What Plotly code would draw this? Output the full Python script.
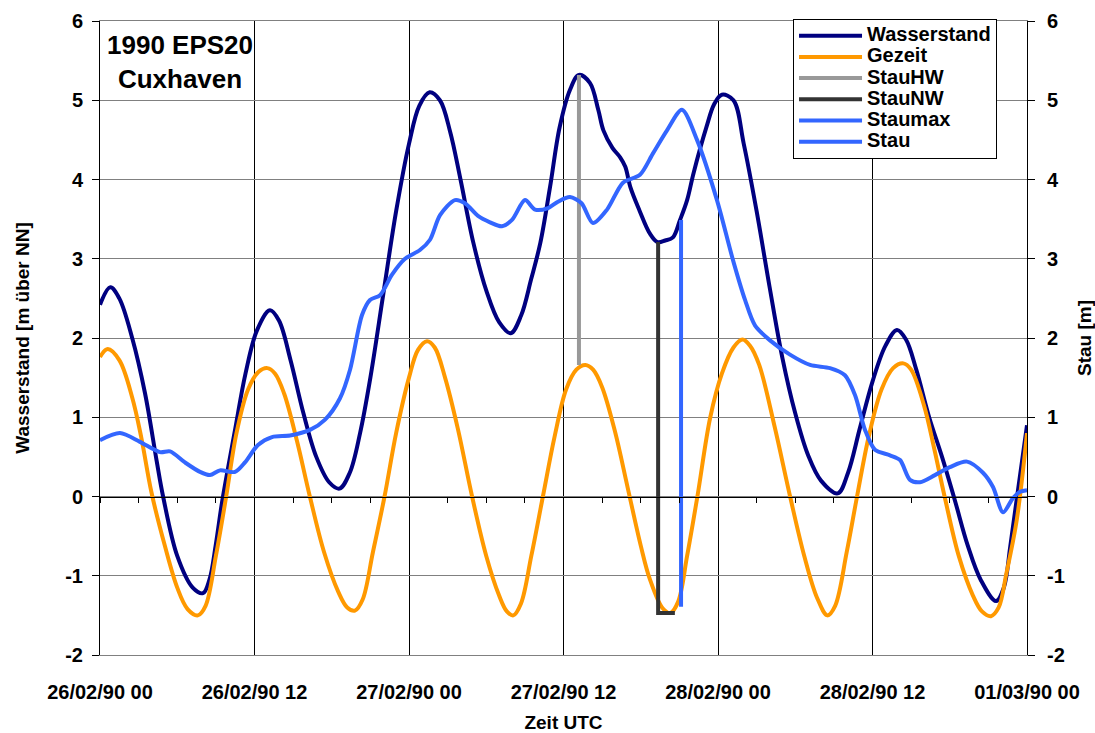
import plotly.graph_objects as go

# Time axis in hours since 26/02/90 00 UTC
tick_hours = [0, 12, 24, 36, 48, 60, 72]
tick_labels = ["26/02/90 00", "26/02/90 12", "27/02/90 00", "27/02/90 12",
               "28/02/90 00", "28/02/90 12", "01/03/90 00"]
level_ticks = [-2, -1, 0, 1, 2, 3, 4, 5, 6]
level_labels = ["-2", "-1", "0", "1", "2", "3", "4", "5", "6"]

# Observed water level [m above NN]
wasserstand_h = [0, 0.8, 1.5, 2.5, 3.5, 4.4, 4.9, 6.0, 7.2, 8.0, 8.5, 9.0, 9.5,
                 10.5, 11.3, 12.2, 13.2, 13.9, 14.8, 15.8, 16.8, 17.8, 18.6, 19.4,
                 20.2, 21.0, 22.0, 23.0, 24.0, 24.8, 25.6, 26.4, 27.2, 28.0, 29.0,
                 30.0, 31.0, 31.9, 32.7, 33.5, 34.2, 34.95, 35.7, 36.5, 37.2, 38.05,
                 38.7, 39.1, 39.8, 40.4, 40.8, 41.2, 41.9, 42.7, 43.3, 43.9, 44.5,
                 45.05, 45.6, 46.1, 47.1, 47.7, 48.3, 49.2, 50.0, 51.0, 52.0, 53.0,
                 54.0, 55.0, 56.0, 57.3, 58.1, 59.0, 60.0, 61.0, 61.9, 62.6, 63.4,
                 64.4, 65.4, 66.4, 67.4, 68.4, 69.6, 70.2, 70.7, 71.3, 72.0]
wasserstand_m = [2.42, 2.64, 2.5, 2.0, 1.3, 0.45, 0.0, -0.75, -1.15, -1.22, -1.05, -0.6, -0.05,
                 0.85, 1.55, 2.1, 2.35, 2.22, 1.72, 1.05, 0.5, 0.18, 0.1, 0.3,
                 0.8, 1.5, 2.55, 3.6, 4.45, 4.93, 5.1, 5.0, 4.6, 4.0, 3.2,
                 2.6, 2.2, 2.06, 2.28, 2.75, 3.2, 3.9, 4.66, 5.13, 5.32, 5.22,
                 4.88, 4.62, 4.4, 4.28, 4.16, 3.9, 3.61, 3.32, 3.21, 3.23, 3.27,
                 3.49, 3.74, 4.08, 4.66, 4.95, 5.07, 5.0, 4.45, 3.6, 2.65, 1.75,
                 1.05, 0.52, 0.2, 0.04, 0.3, 0.85, 1.45, 1.9, 2.1, 1.98, 1.6,
                 1.0, 0.5, -0.05, -0.62, -1.05, -1.32, -1.15, -0.63, 0.08, 0.9]

# Astronomical tide [m above NN]
gezeit_h = [0, 0.6, 1.5, 2.5, 3.2, 4.0, 5.0, 6.0, 6.8, 7.6, 8.2, 9.0, 9.8, 10.6,
            11.5, 12.3, 13.0, 13.6, 14.3, 15.3, 16.3, 17.4, 18.5, 19.2, 19.8, 20.4,
            21.2, 22.1, 23.0, 24.0, 24.7, 25.4, 26.0, 26.8, 27.8, 28.9, 30.0, 31.0,
            31.6, 32.1, 32.7, 33.5, 34.4, 35.3, 36.2, 37.0, 37.7, 38.3, 39.0, 40.0,
            41.0, 42.0, 42.7, 43.7, 44.3, 44.9, 45.6, 46.4, 47.4, 48.3, 49.2, 49.9,
            50.5, 51.2, 52.4, 53.6, 54.7, 55.7, 56.5, 57.1, 58.0, 58.8, 59.7, 60.7,
            61.6, 62.4, 63.0, 64.0, 64.8, 65.6, 66.7, 67.8, 68.5, 69.2, 69.8, 70.4,
            71.2, 72.0]
gezeit_m = [1.76, 1.86, 1.72, 1.25, 0.75, 0.05, -0.6, -1.15, -1.42, -1.5, -1.38, -0.75, 0.0, 0.8,
            1.35, 1.57, 1.62, 1.55, 1.3, 0.7, 0.0, -0.7, -1.2, -1.4, -1.44, -1.3,
            -0.7, 0.0, 0.8, 1.5, 1.85, 1.96, 1.88, 1.5, 0.85, 0.0, -0.75, -1.25,
            -1.45, -1.5, -1.35, -0.75, 0.0, 0.75, 1.35, 1.6, 1.66, 1.6, 1.38, 0.82,
            0.1, -0.62, -1.04, -1.41, -1.47, -1.33, -0.75, 0.0, 1.0, 1.55, 1.88, 1.98,
            1.9, 1.66, 0.88, 0.0, -0.75, -1.28, -1.5, -1.38, -0.7, 0.0, 0.75, 1.35,
            1.62, 1.68, 1.6, 1.15, 0.6, 0.0, -0.75, -1.25, -1.45, -1.51, -1.4, -0.97,
            -0.3, 0.8]

# Surge [m]
stau_h = [0, 1.55, 3.1, 4.66, 5.44, 6.6, 7.77, 8.54, 9.32, 10.49, 11.26, 12.27, 13.36,
          14.76, 16.31, 17.48, 18.64, 19.42, 20.35, 20.97, 21.75, 22.68, 23.69, 24.85,
          25.63, 26.41, 27.57, 28.35, 29.36, 30.29, 31.22, 32.0, 33.01, 33.79, 34.8,
          35.57, 36.5, 37.4, 38.29, 39.38, 40.62, 41.94, 42.95, 44.04, 45.2, 46.37,
          47.92, 49.17, 50.1, 50.87, 52.04, 53.59, 55.15, 56.7, 57.86, 58.64, 59.42,
          60.19, 61.36, 62.14, 62.91, 63.69, 64.85, 66.0, 67.34, 68.58, 69.36, 70.14,
          70.91, 71.46, 72.0]
stau_m = [0.71, 0.8, 0.69, 0.56, 0.57, 0.43, 0.31, 0.27, 0.33, 0.31, 0.43, 0.65, 0.75,
          0.77, 0.84, 0.97, 1.24, 1.6, 2.29, 2.48, 2.54, 2.8, 3.0, 3.11,
          3.24, 3.55, 3.74, 3.7, 3.54, 3.46, 3.41, 3.49, 3.74, 3.62, 3.64,
          3.72, 3.78, 3.7, 3.45, 3.62, 3.96, 4.06, 4.33, 4.62, 4.88, 4.5,
          3.74, 2.98, 2.48, 2.16, 1.97, 1.79, 1.66, 1.62, 1.53, 1.28, 0.84,
          0.59, 0.52, 0.46, 0.21, 0.18, 0.27, 0.37, 0.44, 0.30, 0.12, -0.2,
          -0.02, 0.06, 0.08]

# Surge markers: high water, low water and maximum surge
stauhw_h = [37.2, 37.2]
stauhw_m = [1.66, 5.32]
staunw_h = [43.35, 43.35, 44.65]
staunw_m = [3.21, -1.47, -1.47]
staumax_h = [45.13, 45.13]
staumax_m = [3.49, -1.39]

FONT = "Liberation Sans, Arial, sans-serif"


def label(text):
    return '<span style="font-size:20px">' + text + '</span>'


fig = go.Figure()
fig.add_trace(go.Scatter(x=wasserstand_h, y=wasserstand_m, name=label("Wasserstand"),
                         mode="lines", line=dict(color="#000080", width=4, shape="spline", smoothing=1.0)))
fig.add_trace(go.Scatter(x=gezeit_h, y=gezeit_m, name=label("Gezeit"),
                         mode="lines", line=dict(color="#FF9900", width=4, shape="spline", smoothing=1.0)))
fig.add_trace(go.Scatter(x=stauhw_h, y=stauhw_m, name=label("StauHW"),
                         mode="lines", line=dict(color="#999999", width=4)))
fig.add_trace(go.Scatter(x=staunw_h, y=staunw_m, name=label("StauNW"),
                         mode="lines", line=dict(color="#333333", width=4)))
fig.add_trace(go.Scatter(x=staumax_h, y=staumax_m, name=label("Staumax"),
                         mode="lines", line=dict(color="#3366FF", width=4)))
# Surge on the secondary axes; x2 also carries the 3-hour ticks along the zero line
fig.add_trace(go.Scatter(x=stau_h, y=stau_m, name=label("Stau"), xaxis="x2", yaxis="y2",
                         mode="lines", line=dict(color="#3366FF", width=4, shape="spline", smoothing=0.8)))

axis_font = dict(family=FONT, size=20, color="black", weight="bold")
title_font = dict(family=FONT, size=19, color="black", weight="bold")

fig.update_layout(
    width=1095, height=733,
    margin=dict(l=100, r=68, t=21, b=78, autoexpand=False),
    paper_bgcolor="white", plot_bgcolor="white",
    font=dict(family=FONT, color="black"),
    showlegend=True,
    legend=dict(x=0.7476, y=1.003, xanchor="left", yanchor="top",
                bgcolor="white", bordercolor="black", borderwidth=1,
                font=dict(family=FONT, size=14, color="black", weight="bold"),
                itemwidth=63, tracegroupgap=0),
    xaxis=dict(range=[0, 72], tickvals=tick_hours, ticktext=tick_labels,
               showgrid=True, gridcolor="black", gridwidth=1,
               showline=True, linecolor="#808080", linewidth=1, mirror=True,
               ticks="outside", ticklen=19, tickcolor="rgba(0,0,0,0)",
               tickfont=axis_font, zeroline=False, automargin=False,
               title=dict(text="Zeit UTC", font=title_font, standoff=14)),
    xaxis2=dict(range=[0, 72], overlaying="x", anchor="free", position=0.25,
                dtick=3, tick0=0, ticks="outside", ticklen=5, tickcolor="black",
                showticklabels=False, showgrid=False, showline=True,
                linecolor="black", linewidth=1, zeroline=False, automargin=False),
    yaxis=dict(range=[-2, 6], tickvals=level_ticks, ticktext=level_labels,
               showgrid=True, gridcolor="#808080", gridwidth=1,
               showline=True, linecolor="black", linewidth=1,
               ticks="outside", ticklen=7, tickcolor="black",
               tickfont=axis_font, zeroline=False, ticklabelstandoff=5, automargin=False,
               title=dict(text="Wasserstand [m über NN]", font=title_font, standoff=30)),
    yaxis2=dict(range=[-2, 6], tickvals=level_ticks, ticktext=level_labels,
                overlaying="y", side="right", anchor="x2", showgrid=False,
                showline=True, linecolor="black", linewidth=1,
                ticks="outside", ticklen=7, tickcolor="black",
                tickfont=axis_font, zeroline=False, ticklabelstandoff=8, automargin=False,
                title=dict(text="Stau [m]", font=title_font, standoff=14)),
    annotations=[dict(text="<b>1990 EPS20<br>Cuxhaven</b>", xref="paper", yref="paper",
                      x=0.0863, y=0.935, xanchor="center", yanchor="middle", showarrow=False,
                      align="center", font=dict(family=FONT, size=26, color="black"))],
)

fig.write_html("out.html")
